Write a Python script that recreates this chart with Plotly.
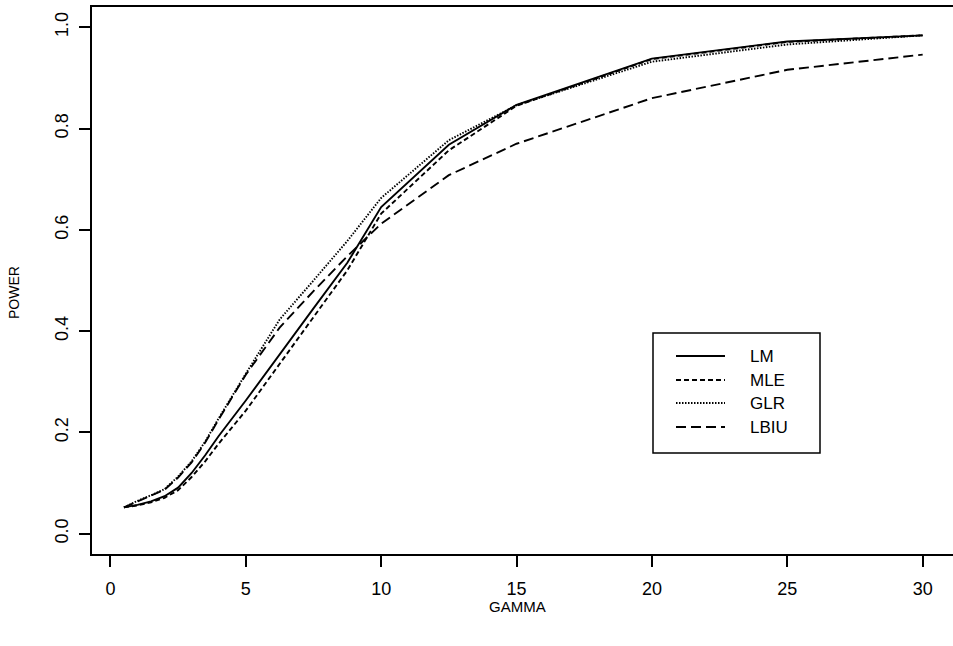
import plotly.graph_objects as go

gamma = [0.5, 1, 1.5, 2, 2.5, 3, 3.5, 4, 5, 6.25, 7.5, 8.75, 10, 12.5, 15, 20, 25, 30]
lm   = [0.052, 0.057, 0.064, 0.074, 0.091, 0.120, 0.155, 0.193, 0.263, 0.355, 0.445, 0.535, 0.645, 0.768, 0.847, 0.938, 0.972, 0.984]
mle  = [0.052, 0.056, 0.062, 0.071, 0.086, 0.112, 0.143, 0.178, 0.243, 0.335, 0.428, 0.520, 0.632, 0.757, 0.845, 0.937, 0.971, 0.984]
glr  = [0.052, 0.065, 0.076, 0.088, 0.113, 0.143, 0.182, 0.228, 0.316, 0.423, 0.500, 0.578, 0.663, 0.777, 0.846, 0.932, 0.966, 0.984]
lbiu = [0.052, 0.064, 0.075, 0.087, 0.111, 0.141, 0.180, 0.226, 0.314, 0.407, 0.479, 0.548, 0.612, 0.708, 0.770, 0.860, 0.916, 0.946]

names = ["LM", "MLE", "GLR", "LBIU"]
series = [lm, mle, glr, lbiu]
dashes = ["solid", "5px,3px", "1.5px,1.5px", "10px,5px"]
x_ticks = [0, 5, 10, 15, 20, 25, 30]
y_ticks = [0.0, 0.2, 0.4, 0.6, 0.8, 1.0]
y_ticklabels = ["0.0", "0.2", "0.4", "0.6", "0.8", "1.0"]

W, H = 953, 646
ML, MR, MT, MB = 92, 0, 7, 92
PW, PH = W - ML - MR, H - MT - MB

def px(x):
    return (x - ML) / PW

def py(y):
    return (H - MB - y) / PH

FONT = "Liberation Sans, Arial, Helvetica, sans-serif"

fig = go.Figure()
for n, s, d in zip(names, series, dashes):
    fig.add_trace(go.Scatter(x=gamma, y=s, mode="lines", name=n,
                             line=dict(color="black", width=1.9, dash=d),
                             showlegend=False))

fig.update_layout(
    width=W, height=H,
    margin=dict(l=ML, r=MR, t=MT, b=MB, pad=0, autoexpand=False),
    paper_bgcolor="white", plot_bgcolor="white",
    font=dict(family=FONT, color="black"),
)
fig.update_xaxes(range=[-0.68, 31.12], tickvals=x_ticks, ticks="outside", ticklen=11,
                 tickwidth=1.5, tickcolor="black", showgrid=False, zeroline=False,
                 showline=True, linecolor="black", linewidth=2, mirror=True,
                 automargin=False,
                 tickfont=dict(size=18, family=FONT), ticklabelstandoff=6)
fig.update_yaxes(range=[-0.04, 1.04], tickvals=y_ticks, ticktext=y_ticklabels,
                 ticks="outside", ticklen=11, tickwidth=1.5, tickcolor="black",
                 showgrid=False, zeroline=False, showline=True, linecolor="black",
                 linewidth=2, mirror=False, tickangle=-90, automargin=False,
                 tickfont=dict(size=18, family=FONT), ticklabelstandoff=4)

# axis titles
fig.add_annotation(text="GAMMA", x=px(517), y=py(606), xref="paper", yref="paper",
                   showarrow=False, font=dict(size=15, family=FONT), xanchor="center", yanchor="middle")
fig.add_annotation(text="POWER", x=px(14), y=py(293), xref="paper", yref="paper",
                   showarrow=False, font=dict(size=14, family=FONT), textangle=-90,
                   xanchor="center", yanchor="middle")

# legend box
fig.add_shape(type="rect", xref="paper", yref="paper",
              x0=px(653), x1=px(820), y0=py(453), y1=py(333),
              line=dict(color="black", width=1.5), fillcolor="white", layer="above")
rows = [356, 380, 403, 427]
for n, d, r in zip(names, dashes, rows):
    fig.add_shape(type="line", xref="paper", yref="paper",
                  x0=px(676), x1=px(725), y0=py(r), y1=py(r),
                  line=dict(color="black", width=1.8, dash=d), layer="above")
    fig.add_annotation(text=n, x=px(748), y=py(r), xref="paper", yref="paper",
                       showarrow=False, font=dict(size=17, family=FONT),
                       xanchor="left", yanchor="middle")

fig.write_html("out.html", config={"displayModeBar": False},
               post_script="document.body.style.margin='0';document.body.style.overflow='hidden';")
